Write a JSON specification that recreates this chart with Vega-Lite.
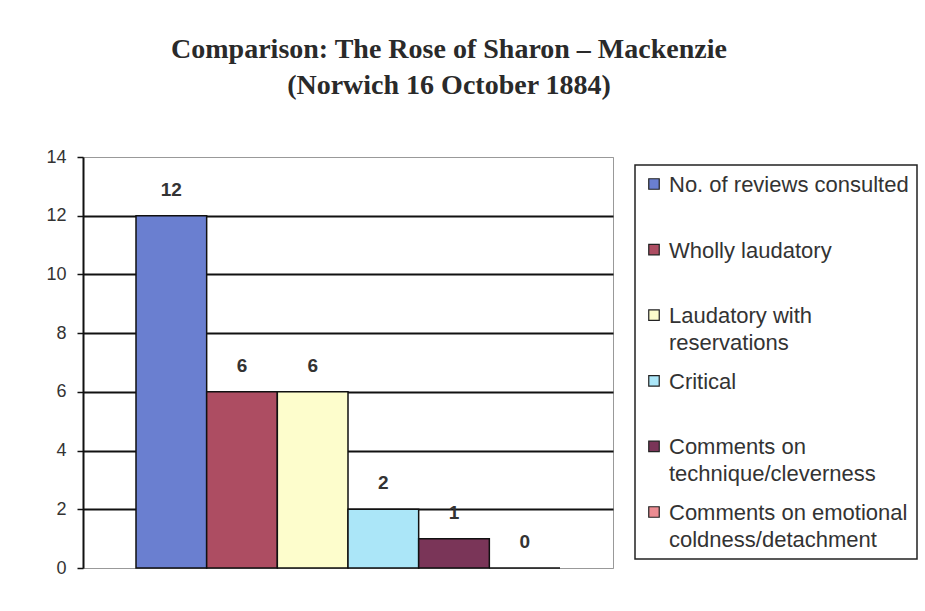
{
  "$schema": "https://vega.github.io/schema/vega-lite/v6.json",
  "autosize": "none",
  "width": 530,
  "height": 411,
  "padding": {"left": 83, "top": 157, "right": 312, "bottom": 43},
  "background": "white",
  "title": {
    "text": ["Comparison: The Rose of Sharon – Mackenzie", "(Norwich 16 October 1884)"],
    "font": "Liberation Serif",
    "fontSize": 28,
    "fontWeight": "bold",
    "color": "#2a2a2a",
    "lineHeight": 36,
    "anchor": "middle",
    "frame": "group",
    "dx": 101,
    "offset": 48
  },
  "data": {
    "values": [
      {"series": "No. of reviews consulted", "value": 12},
      {"series": "Wholly laudatory", "value": 6},
      {"series": "Laudatory with reservations", "value": 6},
      {"series": "Critical", "value": 2},
      {"series": "Comments on technique/cleverness", "value": 1},
      {"series": "Comments on emotional coldness/detachment", "value": 0}
    ]
  },
  "encoding": {
    "x": {
      "field": "series",
      "type": "nominal",
      "sort": null,
      "axis": null,
      "scale": {"paddingInner": 0, "paddingOuter": 0.75}
    },
    "y": {
      "field": "value",
      "type": "quantitative",
      "scale": {"domain": [0, 14]},
      "axis": {
        "values": [0, 2, 4, 6, 8, 10, 12, 14],
        "title": null,
        "grid": true,
        "gridColor": {"condition": {"test": "datum.value == 0 || datum.value == 14", "value": "#999999"}, "value": "#111111"},
        "gridWidth": {"condition": {"test": "datum.value == 0 || datum.value == 14", "value": 1}, "value": 2},
        "gridOpacity": 1,
        "domainColor": "#111111",
        "domainWidth": 2,
        "tickColor": "#111111",
        "tickSize": 6,
        "tickWidth": 1.5,
        "labelFont": "Liberation Sans",
        "labelFontSize": 18,
        "labelColor": "#333333",
        "labelPadding": 11
      }
    }
  },
  "layer": [
    {
      "mark": {"type": "bar", "stroke": "#111111", "strokeWidth": 1.5},
      "encoding": {
        "color": {
          "field": "series",
          "type": "nominal",
          "sort": null,
          "scale": {
            "domain": ["No. of reviews consulted", "Wholly laudatory", "Laudatory with reservations", "Critical", "Comments on technique/cleverness", "Comments on emotional coldness/detachment"],
            "range": ["#6a7fd0", "#ad4d62", "#fdfdcc", "#abe6f8", "#7a3558", "#ec8c92"]
          },
          "legend": {
            "title": null,
            "orient": "none",
            "legendX": 552,
            "legendY": 8,
            "strokeColor": "#222222",
            "padding": 8,
            "symbolType": "square",
            "symbolSize": 110,
            "symbolStrokeColor": "#222222",
            "symbolStrokeWidth": 1.2,
            "labelFont": "Liberation Sans",
            "labelFontSize": 22,
            "labelColor": "#333333",
            "labelLimit": 300,
            "labelBaseline": "top",
            "labelOffset": 4,
            "labelExpr": "datum.label == 'Laudatory with reservations' ? ['Laudatory with', 'reservations'] : datum.label == 'Comments on technique/cleverness' ? ['Comments on', 'technique/cleverness'] : datum.label == 'Comments on emotional coldness/detachment' ? ['Comments on emotional', 'coldness/detachment'] : [datum.label, '']",
            "rowPadding": 15.6,
            "encode": {
              "legend": {"update": {"strokeWidth": {"value": 1.5}}},
              "labels": {"update": {"lineHeight": {"value": 27}, "dy": {"value": -9}}}
            }
          }
        }
      }
    },
    {
      "mark": {"type": "text", "dy": -26, "baseline": "middle", "font": "Liberation Sans", "fontSize": 19, "fontWeight": "bold", "color": "#333333"},
      "encoding": {"text": {"field": "value", "type": "quantitative"}}
    }
  ],
  "config": {"view": {"stroke": "#999999", "strokeWidth": 1}}
}
